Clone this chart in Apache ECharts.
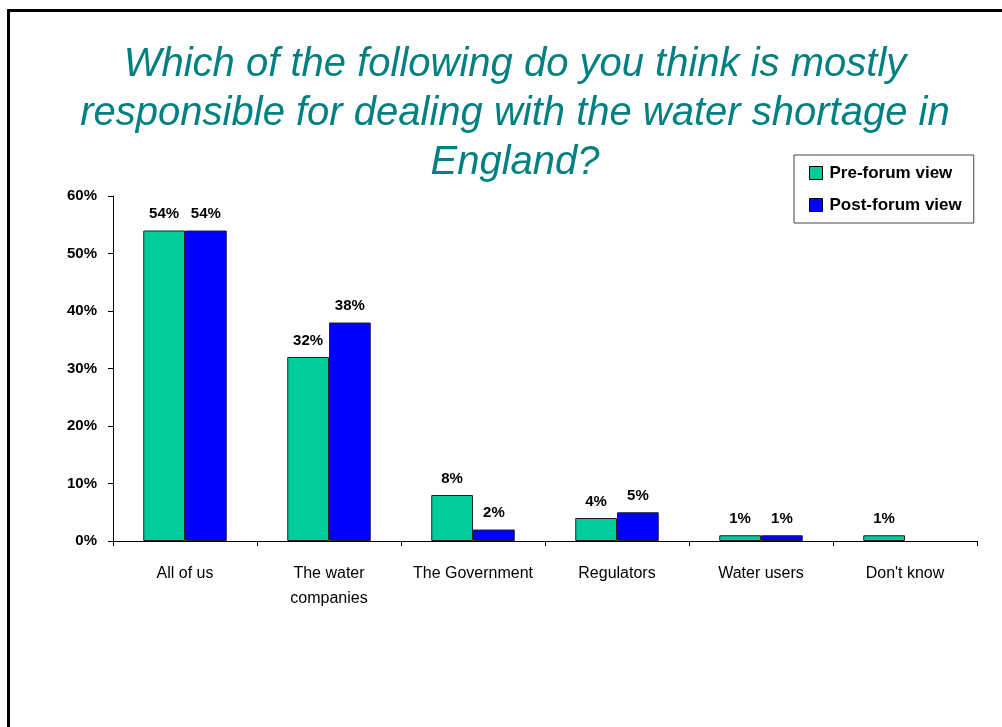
<!DOCTYPE html>
<html>
<head>
<meta charset="utf-8">
<script src="https://cdn.jsdelivr.net/npm/echarts@6/dist/echarts.min.js"></script>
<style>
  html, body { margin: 0; padding: 0; background: #fff; }
  #frame { position: absolute; left: 7px; top: 9px; width: 1020px; height: 740px; border: 3px solid #000; box-sizing: border-box; }
  #chart { position: absolute; left: 0; top: 0; width: 1002px; height: 727px; }
</style>
</head>
<body>
<div id="frame"></div>
<div id="chart"></div>
<script>
// Survey responses, percentage of participants
const categories = ['All of us', 'The water\ncompanies', 'The Government', 'Regulators', 'Water users', "Don't know"];
const preForum = [54, 32, 8, 4, 1, 1];
const postForum = [54, 38, 2, 5, 1, null];
const seriesNames = ['Pre-forum view', 'Post-forum view'];
const yTicks = [0, 10, 20, 30, 40, 50, 60];

const FONT = '"Liberation Sans", Arial, sans-serif';
const chart = echarts.init(document.getElementById('chart'), null, { renderer: 'canvas' });

const barLabel = {
  show: true,
  position: 'top',
  distance: 9,
  formatter: p => p.value == null ? '' : p.value + '%',
  fontFamily: FONT,
  fontSize: 15,
  fontWeight: 'bold',
  color: '#000'
};

chart.setOption({
  animation: false,
  backgroundColor: 'transparent',
  title: {
    text: 'Which of the following do you think is mostly\nresponsible for dealing with the water shortage in\nEngland?',
    left: 510,
    top: 35,
    textAlign: 'center',
    textStyle: {
      fontFamily: FONT,
      fontSize: 40,
      fontStyle: 'italic',
      fontWeight: 'normal',
      color: '#008080',
      lineHeight: 49
    }
  },
  legend: {
    orient: 'vertical',
    left: 794,
    top: 155,
    padding: [9, 12, 9, 15],
    itemGap: 14,
    itemWidth: 13,
    itemHeight: 13,
    borderColor: '#444',
    borderWidth: 1,
    backgroundColor: '#fff',
    icon: 'rect',
    textStyle: { fontFamily: FONT, fontSize: 17, fontWeight: 'bold', color: '#000', lineHeight: 18, padding: [0, 0, 0, 2] },
    itemStyle: { borderColor: '#000', borderWidth: 1 },
    data: seriesNames
  },
  grid: { left: 113, right: 25, top: 196, bottom: 186, containLabel: false },
  xAxis: {
    type: 'category',
    data: categories,
    axisLine: { lineStyle: { color: '#000', width: 1 } },
    axisTick: { show: true, length: 5, lineStyle: { color: '#000' } },
    axisLabel: { fontFamily: FONT, fontSize: 16, color: '#000', margin: 20, lineHeight: 25, interval: 0 }
  },
  yAxis: {
    type: 'value',
    min: yTicks[0],
    max: yTicks[yTicks.length - 1],
    interval: yTicks[1] - yTicks[0],
    splitLine: { show: false },
    axisLine: { show: true, lineStyle: { color: '#000', width: 1 } },
    axisTick: { show: true, length: 5, lineStyle: { color: '#000' } },
    axisLabel: { fontFamily: FONT, fontSize: 15, fontWeight: 'bold', color: '#000', margin: 16, formatter: v => v + '%' }
  },
  series: [
    {
      name: seriesNames[0],
      type: 'bar',
      data: preForum,
      barGap: '0%',
      barCategoryGap: '42%',
      itemStyle: { color: '#00CC99', borderColor: '#222', borderWidth: 1 },
      label: barLabel
    },
    {
      name: seriesNames[1],
      type: 'bar',
      data: postForum,
      itemStyle: { color: '#0000FF', borderColor: '#222', borderWidth: 1 },
      label: barLabel
    }
  ]
});
</script>
</body>
</html>
